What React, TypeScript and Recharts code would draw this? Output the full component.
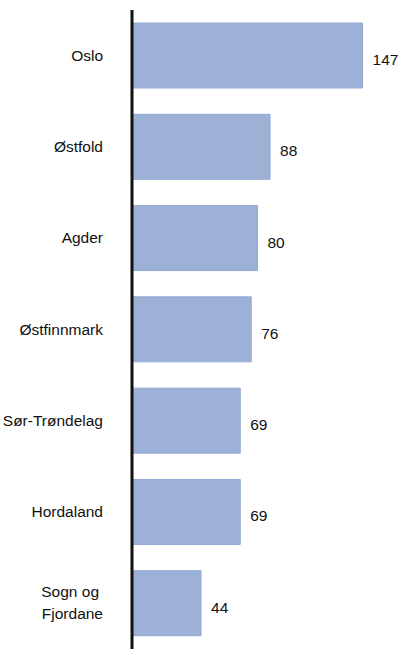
import React from 'react';
import { BarChart, Bar, XAxis, YAxis, LabelList } from 'recharts';

const regions = ['Oslo', 'Østfold', 'Agder', 'Østfinnmark', 'Sør-Trøndelag', 'Hordaland', 'Sogn og Fjordane'];
const counts = [147, 88, 80, 76, 69, 69, 44];

const data = regions.map((region, i) => ({ region, count: counts[i] }));

const FONT = 'Arial, "Liberation Sans", sans-serif';

// long names wrap onto two lines, like in the original
const RegionTick = (props: any) => {
  const { x, y, payload } = props;
  const name: string = payload.value;
  let lines = [name];
  if (name.length > 14) {
    const cut = name.lastIndexOf(' ');
    lines = [name.slice(0, cut), name.slice(cut + 1)];
  }
  const lineHeight = 22;
  const startY = y - ((lines.length - 1) * lineHeight) / 2;
  return (
    <g>
      {lines.map((line, i) => (
        <text
          key={i}
          x={i === 0 && lines.length > 1 ? x - 4 : x}
          y={startY + i * lineHeight}
          dy={5}
          textAnchor="end"
          fontSize={15.5}
          fontFamily={FONT}
          fill="#111"
        >
          {line}
        </text>
      ))}
    </g>
  );
};

// value printed just right of each bar, sitting a little below its middle
const ValueLabel = (props: any) => {
  const { x, y, width, height, value } = props;
  return (
    <text
      x={x + width + 10}
      y={y + height / 2}
      dy={9.5}
      textAnchor="start"
      fontSize={15.5}
      fontFamily={FONT}
      fill="#111"
    >
      {value}
    </text>
  );
};

const App: React.FC = () => {
  return (
    <div style={{ position: 'absolute', left: 0, top: 0, width: 400, height: 659, background: '#fff' }}>
      <BarChart
        layout="vertical"
        width={400}
        height={659}
        data={data}
        margin={{ top: 10, right: 17, bottom: 10, left: 0 }}
        barSize={65}
      >
        <XAxis type="number" domain={[0, 160]} hide />
        <YAxis
          type="category"
          dataKey="region"
          width={132}
          axisLine={{ stroke: '#111', strokeWidth: 3 }}
          tickLine={false}
          tickMargin={23}
          tick={<RegionTick />}
          interval={0}
        />
        <Bar dataKey="count" fill="#9db1d7" stroke="#90a8d3" strokeWidth={1} isAnimationActive={false}>
          <LabelList dataKey="count" content={<ValueLabel />} />
        </Bar>
      </BarChart>
    </div>
  );
};

export default App;
